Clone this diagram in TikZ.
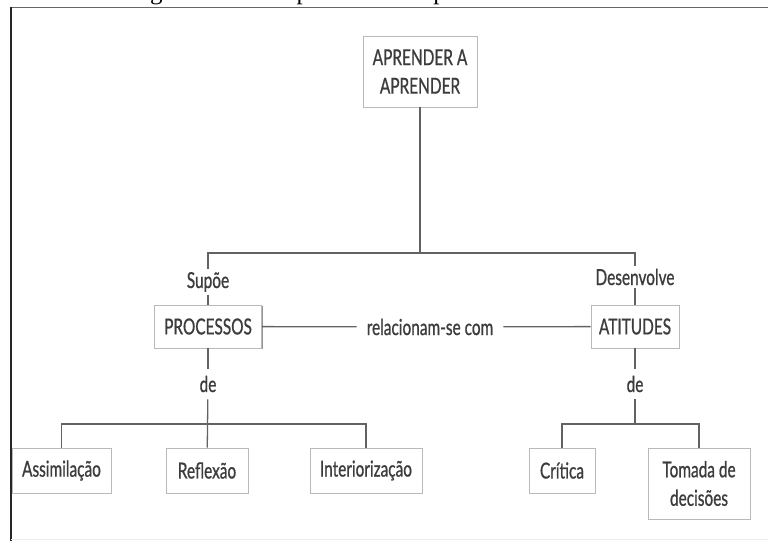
\documentclass[tikz,border=0pt]{standalone}
\usepackage{fontspec}
\setmainfont{Liberation Serif}
\newfontfamily\condsans[FakeStretch=0.7,FakeBold=0.8]{Lato}
\usetikzlibrary{shadows}
\definecolor{ink}{HTML}{3C3C3C}
\definecolor{wire}{HTML}{626262}
\begin{document}
\begin{tikzpicture}[x=1pt,y=-1pt,
  concept/.style={draw=gray!55, line width=0.7pt, fill=white, align=center,
    font=\condsans\fontsize{22}{28.5}\selectfont, text=ink, inner sep=0pt,
    drop shadow={shadow xshift=1.3pt, shadow yshift=-1.3pt, fill=gray!85, opacity=1}},
  linkword/.style={anchor=base, font=\condsans\fontsize{22}{26}\selectfont, text=ink,
    inner xsep=2pt, inner ysep=3pt},
  wire/.style={draw=wire, line width=1.3pt}]
\useasboundingbox (0,0) rectangle (768,541);
\clip (0,0) rectangle (768,541);

% caption above the frame (only its descenders fall inside the page)
\node[anchor=base west, inner sep=0pt, font=\fontsize{25}{25}\selectfont] (caption)
  at (129,-1) {Figura 3 – Exemplo de um mapa conceitual};

% concept boxes
\node[concept, minimum width=114pt, minimum height=71pt] (apr) at (420,71.5) {APRENDER A\\APRENDER};
\node[concept, minimum width=107pt, minimum height=43pt] (proc) at (208,326.5) {PROCESSOS};
\node[concept, minimum width=88pt,  minimum height=43pt] (atit) at (635,326.5) {ATITUDES};
\node[concept, minimum width=99pt,  minimum height=45pt] (assim) at (61.5,470.5) {Assimilação};
\node[concept, minimum width=82pt,  minimum height=45pt] (refl) at (207,470.5) {Reflexão};
\node[concept, minimum width=112pt, minimum height=45pt] (inter) at (366,470.5) {Interiorização};
\node[concept, minimum width=66pt,  minimum height=45pt] (crit) at (562,470.5) {Crítica};
\node[concept, minimum width=102pt, minimum height=71pt] (tom) at (699,483.5) {Tomada de\\decisões};

% linking words
\node[linkword] (sup) at (208,288) {Supõe};
\node[linkword] (des) at (635,285) {Desenvolve};
\node[linkword, inner xsep=10pt] (rel) at (430,335) {relacionam-se com};
\node[linkword, inner ysep=7pt] (de1) at (208,392) {de};
\node[linkword, inner ysep=7pt] (de2) at (635,392) {de};

% junction points
\coordinate (top) at (420,253);
\coordinate (jl) at (208,253);
\coordinate (jr) at (635,253);
\coordinate (bl) at (61.5,424);
\coordinate (br) at (366,424);
\coordinate (cl) at (562,424);
\coordinate (cr) at (699,424);

% connectors
\draw[wire] (apr) -- (top);
\draw[wire] (sup) -- (jl) -- (jr) -- (des);
\draw[wire] (sup) -- (proc);
\draw[wire] (des) -- (atit);
\draw[wire] (proc) -- (rel) -- (atit);
\draw[wire] (proc) -- (de1);
\draw[wire] (de1) -- (refl);
\draw[wire] (assim) -- (bl) -- (br) -- (inter);
\draw[wire] (atit) -- (de2);
\draw[wire] (de2) -- (de2 |- cl);
\draw[wire] (crit) -- (cl) -- (cr) -- (tom);

% frame
\draw[line width=0.9pt, draw=black!60] (11,7) -- (768,7);
\draw[line width=1.6pt, draw=black!85] (11,541) -- (11,7);
\draw[line width=0.8pt, draw=gray!15] (11,539.5) -- (768,539.5);
\end{tikzpicture}
\end{document}
